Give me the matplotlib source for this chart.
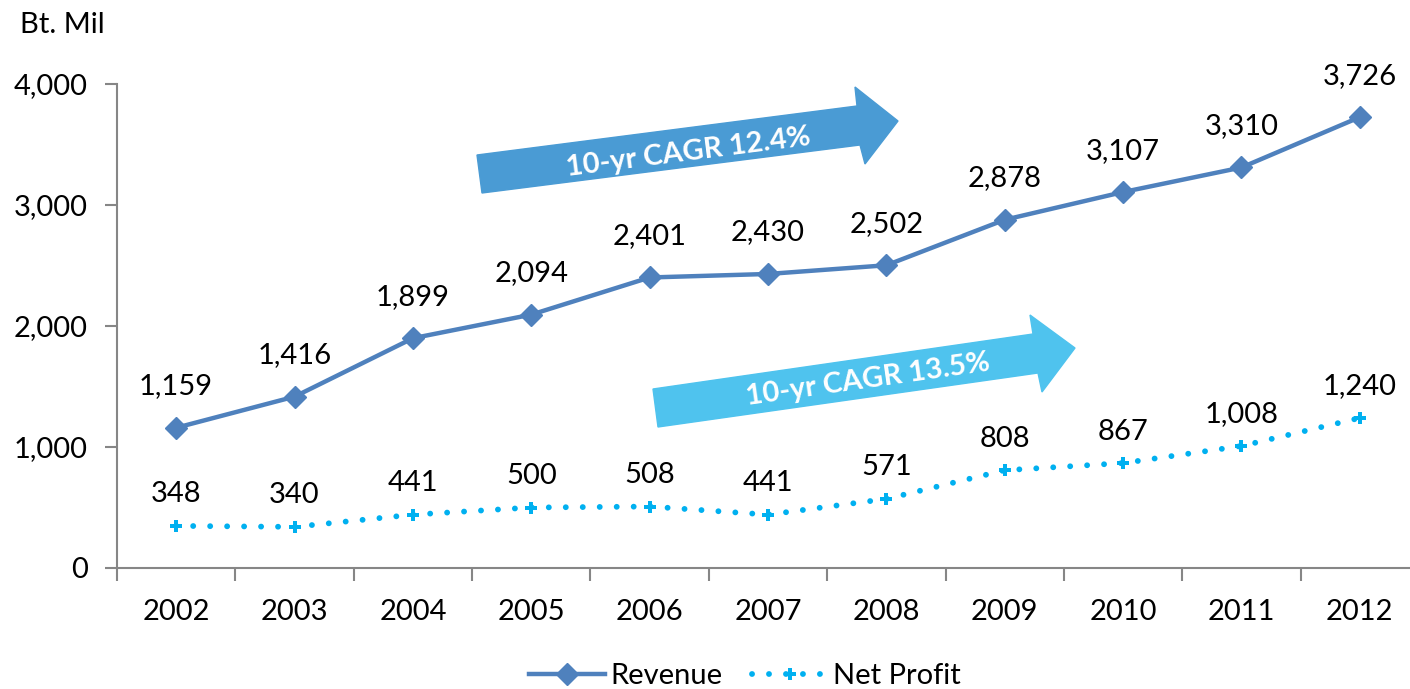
import matplotlib.pyplot as plt
from matplotlib.patches import Polygon
from matplotlib.lines import Line2D

plt.rcParams['font.family'] = ['Lato', 'DejaVu Sans']

years = ['2002', '2003', '2004', '2005', '2006', '2007', '2008', '2009', '2010', '2011', '2012']
revenue = [1159, 1416, 1899, 2094, 2401, 2430, 2502, 2878, 3107, 3310, 3726]
net_profit = [348, 340, 441, 500, 508, 441, 571, 808, 867, 1008, 1240]
cagr_labels = ['10-yr CAGR 12.4%', '10-yr CAGR 13.5%']

W, H = 1410, 689
fig = plt.figure(figsize=(W / 100, H / 100), dpi=100)
ax = fig.add_axes([117 / W, (H - 568) / H, 1302 / W, 484 / H])

rev_col = '#4F81BD'
np_col = '#00B0F0'
grey = '#868686'
fs = 21
np_style = (0, (0.01, 2.9))

x = list(range(len(years)))
ax.plot(x, revenue, color=rev_col, lw=3.2, marker='D', ms=11, zorder=3)
ax.plot(x, net_profit, color=np_col, lw=4.2, linestyle=np_style,
        dash_capstyle='round', marker='P', ms=8, mew=0, zorder=3)

for i, v in enumerate(revenue):
    ax.annotate(f'{v:,}', (i, v), xytext=(0, 44), textcoords='offset pixels',
                ha='center', va='center_baseline', fontsize=fs)
for i, v in enumerate(net_profit):
    ax.annotate(f'{v:,}', (i, v), xytext=(0, 34), textcoords='offset pixels',
                ha='center', va='center_baseline', fontsize=fs)

ax.set_xlim(-0.5, len(years) - 0.5)
ax.set_ylim(0, 4000)
ax.set_yticks([0, 1000, 2000, 3000, 4000])
ax.set_yticklabels([f'{t:,}' for t in [0, 1000, 2000, 3000, 4000]], fontsize=fs)
ax.set_xticks(x)
ax.set_xticklabels(years, fontsize=fs)
ax.set_xticks([i + 0.5 for i in range(-1, len(years) - 1)], minor=True)
ax.tick_params(axis='x', which='major', length=0, pad=22)
ax.tick_params(axis='x', which='minor', length=9, width=1.5, color=grey, direction='out')
ax.tick_params(axis='y', length=9, width=1.5, color=grey, pad=12)
for s in ['top', 'right']:
    ax.spines[s].set_visible(False)
for s in ['left', 'bottom']:
    ax.spines[s].set_color(grey)
    ax.spines[s].set_linewidth(1.5)

fig.text(20 / W, 1 - 25 / H, 'Bt. Mil', fontsize=fs, va='center', ha='left')


def fpts(pts):
    return [(px / W, 1 - py / H) for px, py in pts]


arrow1 = [(477, 155), (857, 106), (855, 87), (898, 121), (865, 164), (860, 145), (482, 193)]
arrow2 = [(653, 389), (1033, 334), (1030, 315), (1075, 348), (1042, 392), (1038, 373), (658, 427)]
for pts, col, (tx, ty), rot, lab in [
        (arrow1, '#4A9BD4', (688, 152), 7.3, cagr_labels[0]),
        (arrow2, '#4FC3EE', (868, 380), 8.1, cagr_labels[1])]:
    fig.patches.append(Polygon(fpts(pts), closed=True, transform=fig.transFigure,
                               facecolor=col, edgecolor=col, lw=1))
    fig.text(tx / W, 1 - ty / H, lab, color='white', fontsize=fs, fontweight='bold',
             rotation=rot, ha='center', va='center', rotation_mode='anchor')

handles = [Line2D([], [], color=rev_col, lw=3.2, marker='D', ms=11),
           Line2D([], [], color=np_col, lw=4.2, linestyle=np_style,
                  dash_capstyle='round', marker='P', ms=8, mew=0)]
fig.legend(handles, ['Revenue', 'Net Profit'], loc='center', bbox_to_anchor=(745 / W, 1 - 676 / H),
           ncol=2, frameon=False, fontsize=fs, handlelength=2.6, handletextpad=0.2,
           columnspacing=1.0, borderpad=0)

fig.savefig('out.png', dpi=100)
